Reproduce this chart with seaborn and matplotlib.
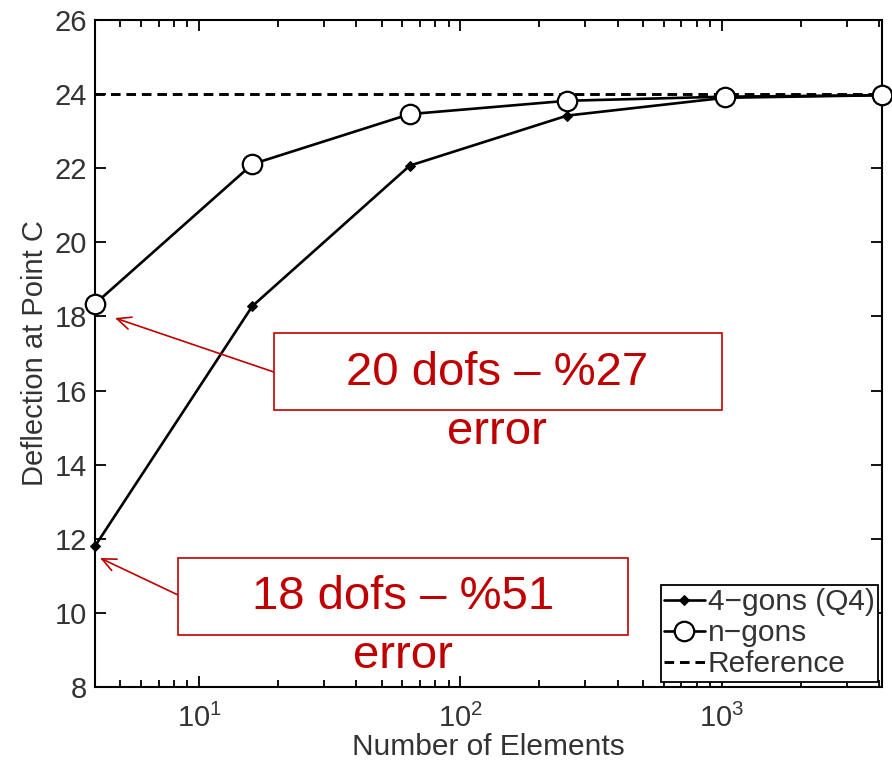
import numpy as np
import pandas as pd
import matplotlib
matplotlib.use("Agg")
import matplotlib.pyplot as plt
import seaborn as sns
from matplotlib.patches import Rectangle
from matplotlib.ticker import LogLocator, NullFormatter, FixedLocator

# ---- data ----
n_elements = [4, 16, 64, 256, 1024, 4096]
q4_values = [11.80, 18.28, 22.07, 23.42, 23.90, 23.97]
ngon_values = [18.34, 22.11, 23.46, 23.82, 23.93, 23.97]
reference_value = 24.0
series_names = ["4\u2212gons (Q4)", "n\u2212gons", "Reference"]
y_ticks = [8, 10, 12, 14, 16, 18, 20, 22, 24, 26]
x_major_ticks = [10, 100, 1000]
x_tick_labels = [r"$10^1$", r"$10^2$", r"$10^3$"]
note_texts = ["20 dofs \u2013 %27", "18 dofs \u2013 %51"]
note_sub = "error"
x_label = "Number of Elements"
y_label = "Deflection at Point C"

sns.set_style("ticks")
plt.rcParams["font.family"] = ["Liberation Sans", "DejaVu Sans"]
plt.rcParams["mathtext.fontset"] = "custom"
plt.rcParams["mathtext.rm"] = "Liberation Sans"
plt.rcParams["mathtext.it"] = "Liberation Sans"

TXT = "#333333"
RED = "#C00000"

fig = plt.figure(figsize=(8.92, 7.6), dpi=100)
ax = fig.add_axes([0.1065, 0.0961, 0.8823, 0.8776])

df_q4 = pd.DataFrame({"x": n_elements, "y": q4_values})
df_ng = pd.DataFrame({"x": n_elements, "y": ngon_values})

sns.lineplot(data=df_q4, x="x", y="y", ax=ax, color="black", lw=1.9,
             marker="D", markersize=5.5, markerfacecolor="black",
             markeredgecolor="black", label=series_names[0], zorder=3, clip_on=False)
sns.lineplot(data=df_ng, x="x", y="y", ax=ax, color="black", lw=1.9,
             marker="o", markersize=14, markerfacecolor="white",
             markeredgecolor="black", markeredgewidth=1.6,
             label=series_names[1], zorder=4, clip_on=False)
ax.axhline(reference_value, color="black", lw=2.1, ls=(0, (3.3, 2.0)),
           label=series_names[2], zorder=2)

ax.set_xscale("log")
ax.set_xlim(n_elements[0], n_elements[-1])
ax.set_ylim(y_ticks[0], y_ticks[-1])
ax.set_yticks(y_ticks)
ax.xaxis.set_major_locator(FixedLocator(x_major_ticks))
ax.set_xticklabels(x_tick_labels)
ax.xaxis.set_minor_locator(LogLocator(base=10, subs=np.arange(2, 10)))
ax.xaxis.set_minor_formatter(NullFormatter())

for s in ax.spines.values():
    s.set_visible(True)
    s.set_linewidth(1.5)
    s.set_color("black")

ax.tick_params(which="both", direction="in", top=True, right=True,
               colors="black", labelcolor=TXT, width=1.3)
ax.tick_params(which="major", length=8, labelsize=21, pad=6)
ax.tick_params(axis="x", which="major", pad=12)
ax.tick_params(which="minor", length=5)

ax.set_xlabel(x_label, fontsize=21.5, color=TXT, labelpad=0)
ax.set_ylabel(y_label, fontsize=21, color=TXT, labelpad=4)

leg = ax.legend(loc="lower right", bbox_to_anchor=(0.995, 0.0075),
                fontsize=21.5, frameon=True, fancybox=False, framealpha=1,
                edgecolor="black", handlelength=1.35, handletextpad=0.1,
                labelspacing=0.1, borderpad=0.12, borderaxespad=0)
leg.get_frame().set_linewidth(1.3)
for t in leg.get_texts():
    t.set_color(TXT)

# ---- annotation boxes ----
boxes = [(0.307, 0.4605, 0.502, 0.1013), (0.1996, 0.1645, 0.5045, 0.1013)]
text_pos = [(0.557, 0.509), (0.4518, 0.2145)]
sub_pos = [(0.557, 0.432), (0.4518, 0.137)]
arrow_from = [(0.307, 0.5105), (0.1996, 0.2171)]
arrow_to = [(0.1289, 0.5816), (0.1121, 0.2658)]
for i in range(2):
    x0, y0, w, h = boxes[i]
    fig.patches.append(Rectangle((x0, y0), w, h, transform=fig.transFigure,
                                 fill=True, facecolor="white", edgecolor=RED,
                                 lw=1.2, zorder=5))
    fig.text(*text_pos[i], note_texts[i], color=RED, fontsize=34,
             ha="center", va="center", zorder=6)
    fig.text(*sub_pos[i], note_sub, color=RED, fontsize=34,
             ha="center", va="center", zorder=6)
    ax.annotate("", xy=arrow_to[i], xycoords="figure fraction",
                xytext=arrow_from[i], textcoords="figure fraction",
                arrowprops=dict(arrowstyle="->,head_length=1.0,head_width=0.45",
                                color=RED, lw=1.2, shrinkA=0, shrinkB=0),
                zorder=5)

fig.savefig("out.png", dpi=100)
